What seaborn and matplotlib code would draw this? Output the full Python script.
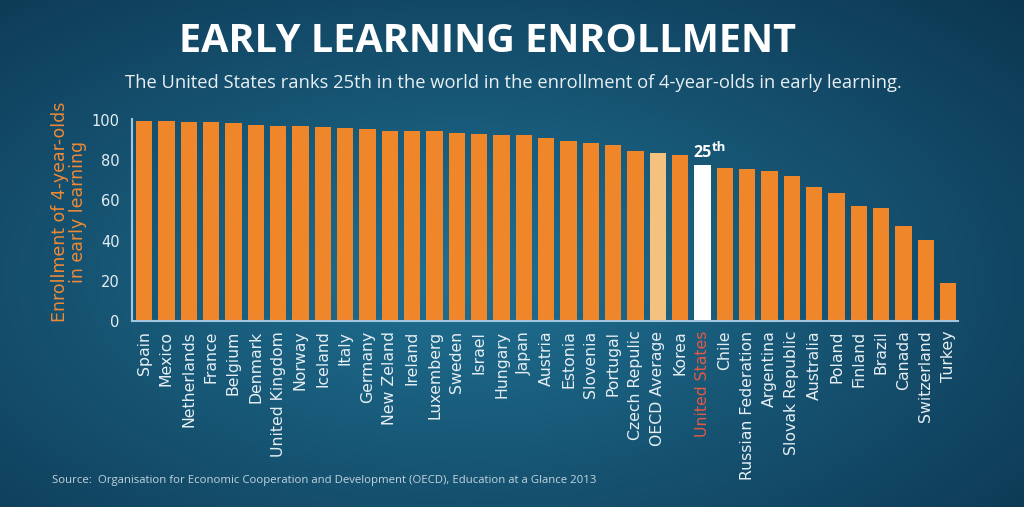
import numpy as np
import pandas as pd
import seaborn as sns
import matplotlib.pyplot as plt

# datos
paises = ['Spain', 'Mexico', 'Netherlands', 'France', 'Belgium', 'Denmark',
          'United Kingdom', 'Norway', 'Iceland', 'Italy', 'Germany', 'New Zeland',
          'Ireland', 'Luxemberg', 'Sweden', 'Israel', 'Hungary', 'Japan', 'Austria',
          'Estonia', 'Slovenia', 'Portugal', 'Czech Repulic', 'OECD Average', 'Korea',
          'United States', 'Chile', 'Russian Federation', 'Argentina', 'Slovak Republic',
          'Australia', 'Poland', 'Finland', 'Brazil', 'Canada', 'Switzerland', 'Turkey']
valores = [99.6, 99.6, 99.3, 99.0, 98.5, 97.5, 97.0, 97.0, 96.7, 96.0, 95.5, 94.5,
           94.5, 94.4, 93.5, 93.0, 92.5, 92.4, 91.0, 89.6, 88.6, 87.5, 84.6, 83.8, 82.5,
           77.7, 76.2, 75.9, 74.9, 72.3, 66.8, 63.7, 57.1, 56.3, 47.4, 40.4, 19.0]
yticks = [0, 20, 40, 60, 80, 100]

naranja = '#f0862a'
colores = {p: naranja for p in paises}
colores['OECD Average'] = '#f5c17f'
colores['United States'] = '#ffffff'

df = pd.DataFrame({'pais': paises, 'valor': valores})

sns.set_style('white')
plt.rcParams['font.family'] = ['DejaVu Sans']

fig = plt.figure(figsize=(10.24, 5.07), dpi=100)

# fondo con gradiente radial
bg = fig.add_axes([0, 0, 1, 1], zorder=-10)
xx, yy = np.meshgrid(np.linspace(0, 1, 400), np.linspace(0, 1, 200))
r = np.sqrt(((xx - 0.45) / 0.75) ** 2 + ((yy - 0.45) / 0.8) ** 2)
r = np.clip(r, 0, 1)
c_centro = np.array([0x20, 0x70, 0x92]) / 255
c_borde = np.array([0x0c, 0x37, 0x52]) / 255
img = c_centro[None, None, :] * (1 - r[..., None]) + c_borde[None, None, :] * r[..., None]
bg.imshow(img, aspect='auto', extent=[0, 1, 0, 1], origin='lower')
bg.axis('off')

ax = fig.add_axes([0.129, 0.367, 0.807, 0.398])
ax.set_facecolor('none')
sns.barplot(data=df, x='pais', y='valor', hue='pais', palette=colores,
            legend=False, width=0.72, saturation=1, linewidth=0, ax=ax)

ax.set_xlim(-0.54, len(paises) - 1 + 0.46)
ax.set_ylim(0, 100.5)
ax.set_yticks(yticks)
ax.set_xticks(range(len(paises)))
ax.set_xticklabels(paises, rotation=90, fontsize=11.3, color='#e6eef3')
ax.tick_params(axis='y', length=0, pad=9, labelsize=10.5, labelcolor='#e6eef3')
ax.tick_params(axis='x', length=0, pad=7)
for lbl in ax.get_xticklabels():
    if lbl.get_text() == 'United States':
        lbl.set_color('#e35a45')
ax.set_xlabel('')
ax.set_ylabel('Enrollment of 4-year-olds\nin early learning', color='#ef8a36',
              fontsize=12.5, labelpad=8, linespacing=1.0)
ax.yaxis.set_label_coords(-0.055, 0.54)
sns.despine(ax=ax)
for s in ['left', 'bottom']:
    ax.spines[s].set_color('#a3c6de')
    ax.spines[s].set_linewidth(1.5)
ax.grid(False)

# etiqueta 25th
us = paises.index('United States')
ax.annotate('25', xy=(us - 0.4, valores[us] + 2.2), color='white', fontsize=11.5,
            fontweight='bold', family='Open Sans', ha='left', va='bottom')
ax.annotate('th', xy=(us - 0.4, valores[us] + 2.2), xytext=(13, 4.5), textcoords='offset points',
            color='white', fontsize=9.5, fontweight='bold', family='Open Sans',
            ha='left', va='bottom')

fig.text(0.476, 0.918, 'EARLY LEARNING ENROLLMENT', color='white', fontsize=28.5,
         fontweight='bold', family='Open Sans', ha='center', va='center')
fig.text(0.501, 0.836, 'The United States ranks 25th in the world in the enrollment of '
         '4-year-olds in early learning.', color='#e8eff3', fontsize=13.2,
         family='Open Sans', ha='center', va='center')
fig.text(0.051, 0.052, 'Source:  Organisation for Economic Cooperation and Development (OECD), '
         'Education at a Glance 2013', color='#c3d4de', fontsize=8.2, family='Open Sans',
         ha='left', va='center')

plt.savefig('out.png', dpi=100)
